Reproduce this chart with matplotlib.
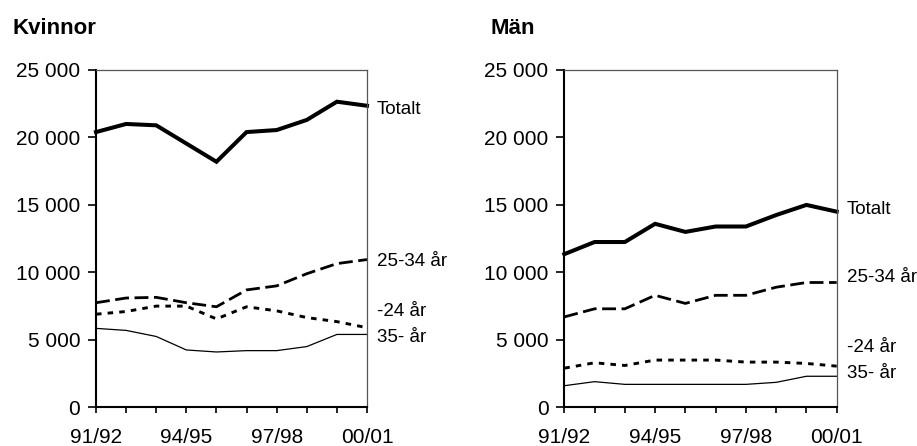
import matplotlib
matplotlib.use("Agg")
import matplotlib.pyplot as plt

plt.rcParams['font.family'] = ['Liberation Sans', 'DejaVu Sans']

years = ["91/92", "92/93", "93/94", "94/95", "95/96", "96/97", "97/98", "98/99", "99/00", "00/01"]
tick_labels = ["91/92", "94/95", "97/98", "00/01"]
series_names = ["Totalt", "25-34 år", "-24 år", "35- år"]

kv_total = [20400, 21000, 20900, 19550, 18200, 20400, 20550, 21300, 22650, 22350]
kv_25_34 = [7750, 8100, 8150, 7750, 7450, 8700, 9000, 9900, 10650, 10950]
kv_24 = [6900, 7100, 7500, 7500, 6550, 7450, 7150, 6650, 6350, 5900]
kv_35 = [5850, 5700, 5250, 4250, 4100, 4200, 4200, 4500, 5400, 5400]

man_total = [11350, 12250, 12250, 13600, 13000, 13400, 13400, 14250, 15000, 14500]
man_25_34 = [6700, 7300, 7300, 8300, 7700, 8300, 8300, 8900, 9250, 9250]
man_24 = [2900, 3300, 3100, 3500, 3500, 3500, 3350, 3350, 3250, 3050]
man_35 = [1600, 1900, 1700, 1700, 1700, 1700, 1700, 1850, 2300, 2300]

W, H = 917, 446
fig = plt.figure(figsize=(W / 100, H / 100), dpi=100)

styles = [
    dict(color="black", lw=2.9, linestyle="-", solid_joinstyle="miter"),
    dict(color="black", lw=2.0, linestyle=(0, (5, 2))),
    dict(color="black", lw=2.1, linestyle=(0, (1.9, 2.1))),
    dict(color="black", lw=0.9, linestyle="-"),
]


def panel(rect, title, title_x, data, label_y):
    ax = fig.add_axes(rect)
    x = list(range(len(years)))
    for vals, st in zip(data, styles):
        ax.plot(x, vals, **st, clip_on=False)
    ax.set_xlim(0, len(years) - 1)
    ax.set_ylim(0, 25000)
    ax.set_yticks([0, 5000, 10000, 15000, 20000, 25000])
    ax.set_yticklabels(["0", "5 000", "10 000", "15 000", "20 000", "25 000"], fontsize=15)
    ax.set_xticks(x)
    ax.set_xticklabels([y if y in tick_labels else "" for y in years], fontsize=15)
    ax.tick_params(axis="y", direction="out", length=5.8, width=1.2, pad=5.5)
    ax.tick_params(axis="x", direction="out", length=4.5, width=1.2, pad=10.5)
    for s in ["left", "bottom"]:
        ax.spines[s].set_linewidth(1.5)
        ax.spines[s].set_color("black")
    for s in ["top", "right"]:
        ax.spines[s].set_linewidth(0.9)
        ax.spines[s].set_color("#555555")
    for name, ly in zip(series_names, label_y):
        ax.annotate(name, xy=(1, 0), xycoords="axes fraction",
                    xytext=(rect[0] * W + rect[2] * W + 10, H - ly), textcoords="figure pixels",
                    ha="left", va="center", fontsize=13.5)
    fig.text(title_x / W, 1 - 28 / H, title, fontsize=16, fontweight="bold",
             ha="left", va="center")
    return ax


bottom = (H - 407.3) / H
height = 337.3 / H
panel([96 / W, bottom, 271 / W, height], "Kvinnor", 12,
      [kv_total, kv_25_34, kv_24, kv_35], [110, 262, 312, 338])
panel([564.3 / W, bottom, 272.4 / W, height], "Män", 490,
      [man_total, man_25_34, man_24, man_35], [209, 277, 347, 374])

fig.savefig("out.png", dpi=100)
